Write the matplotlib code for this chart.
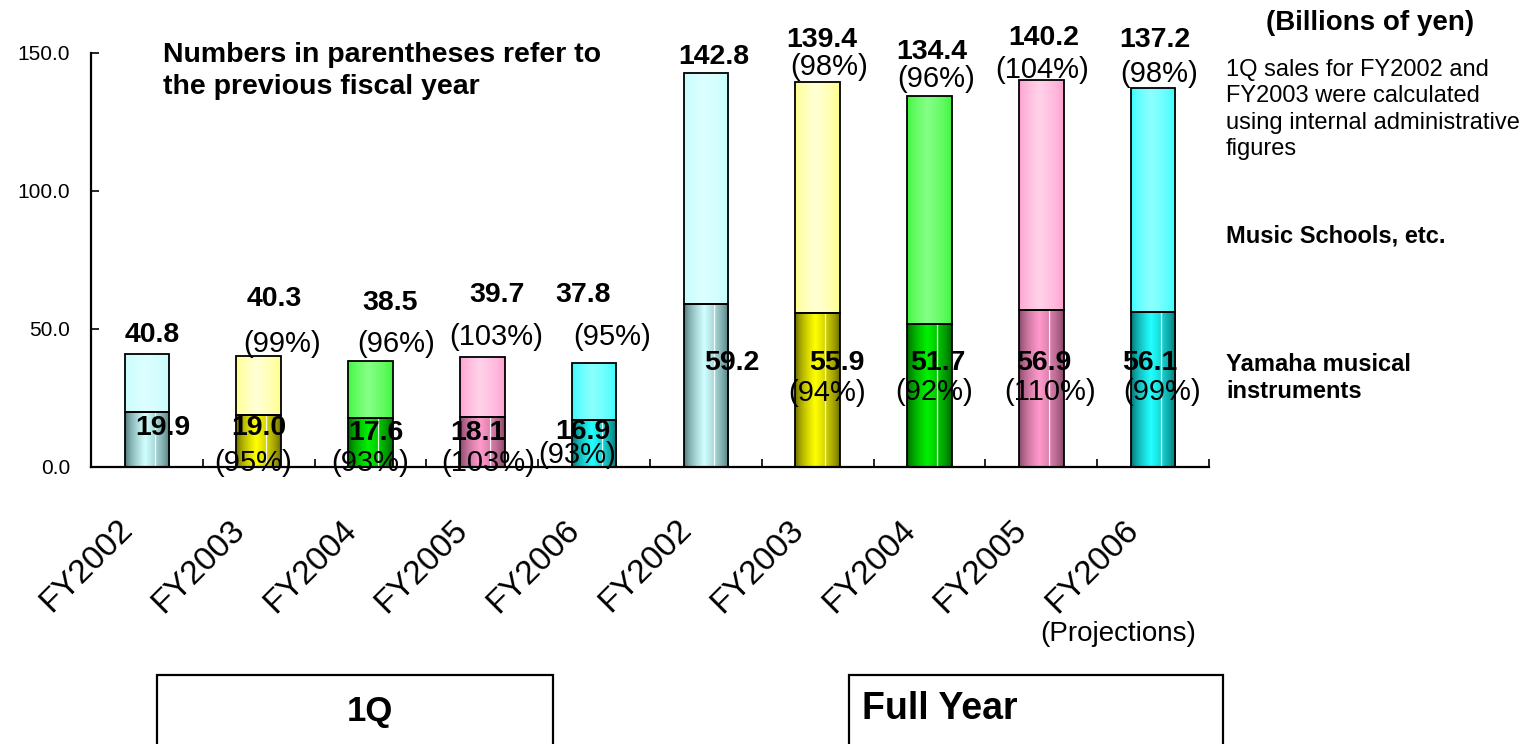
import numpy as np
import matplotlib
matplotlib.use("Agg")
import matplotlib.pyplot as plt
from matplotlib.patches import Rectangle
from matplotlib.colors import to_rgb

plt.rcParams["font.family"] = ["Liberation Sans", "DejaVu Sans"]

# ---- data (billions of yen) ----
years = ["FY2002", "FY2003", "FY2004", "FY2005", "FY2006"]

q1_instruments = [19.9, 19.0, 17.6, 18.1, 16.9]
q1_total = [40.8, 40.3, 38.5, 39.7, 37.8]
q1_instruments_pct = [None, 95, 93, 103, 93]
q1_total_pct = [None, 99, 96, 103, 95]

fy_instruments = [59.2, 55.9, 51.7, 56.9, 56.1]
fy_total = [142.8, 139.4, 134.4, 140.2, 137.2]
fy_instruments_pct = [None, 94, 92, 110, 99]
fy_total_pct = [None, 98, 96, 104, 98]

y_ticks = [0, 50, 100, 150]

# ---- styling ----
# (edge colour, centre colour) of the cylinder shading, per fiscal year
upper_shades = [("#c4fcfc", "#dcffff"), ("#ffff80", "#ffffd6"), ("#33f533", "#85ff85"),
                ("#ff99cc", "#ffd2e9"), ("#2efcfc", "#8cffff")]
lower_shades = [("#3d6868", "#d0ffff"), ("#5a5a00", "#ffff00"), ("#005400", "#00f000"),
                ("#783b5a", "#ff9acc"), ("#005c5c", "#22ffff")]

# label offsets in pixels from the bar anchor (centre x, segment top)
q1_total_off = [(5, 19), (16, 57), (20, 58), (15, 62), (-11, 68)]
q1_total_pct_off = [None, (23, 12), (26, 17), (14, 20), (18, 26)]
q1_instr_off = [(16, -16), (0, -13), (5, -15), (-4, -16), (-11, -12)]
q1_instr_pct_off = [None, (-6, -48), (0, -45), (6, -46), (-17, -35)]
fy_total_off = [(8, 16), (4, 42), (2, 44), (2, 42), (2, 48)]
fy_total_pct_off = [None, (11, 15), (7, 17), (1, 10), (6, 14)]
fy_instr_off = [(26, -59), (19, -50), (8, -39), (2, -53), (-3, -51)]
fy_instr_pct_off = [None, (9, -80), (5, -68), (9, -82), (9, -80)]

W, H, DPI = 1537, 744, 100
fig = plt.figure(figsize=(W / DPI, H / DPI), dpi=DPI)
ax = fig.add_axes([91 / W, 1 - 467 / H, (1209 - 91) / W, (467 - 53) / H])

n = len(years)
centers = np.arange(2 * n) + 0.5
instruments = q1_instruments + fy_instruments
totals = q1_total + fy_total
schools = [t - i for t, i in zip(totals, instruments)]
bar_w = 0.4


def ramp(edge, mid, stripe):
    cols = 120
    t = (np.arange(cols) + 0.5) / cols
    peak = 0.45
    w = np.where(t < peak, t / peak, (1 - t) / (1 - peak))
    w = np.clip(w, 0, 1) ** 0.6
    e, m = np.array(to_rgb(edge)), np.array(to_rgb(mid))
    img = e[None, :] + (m - e)[None, :] * w[:, None]
    if stripe:
        img[np.abs(t - 0.68) < 0.011] = 1.0
    return img[None, :, :]


def shade(patch, colours, stripe):
    x0, y0 = patch.get_x(), patch.get_y()
    im = ax.imshow(ramp(*colours, stripe),
                   extent=(x0, x0 + patch.get_width(), y0, y0 + patch.get_height()),
                   aspect="auto", origin="lower", interpolation="antialiased", zorder=2)
    im.set_clip_path(patch)


low = ax.bar(centers, instruments, bar_w, facecolor="none", edgecolor="black",
             linewidth=1.3, zorder=3)
up = ax.bar(centers, schools, bar_w, bottom=instruments, facecolor="none",
            edgecolor="black", linewidth=1.3, zorder=3)
for k in range(2 * n):
    shade(low.patches[k], lower_shades[k % n], True)
    shade(up.patches[k], upper_shades[k % n], False)

ax.set_xlim(0, 2 * n)
ax.set_ylim(0, 150)

for s in ("top", "right"):
    ax.spines[s].set_visible(False)
for s in ("left", "bottom"):
    ax.spines[s].set_linewidth(1.6)

ax.set_xticks(np.arange(2 * n + 1))
ax.set_xticklabels([])
ax.tick_params(axis="x", direction="in", length=5.5, width=1.2)
ax.set_yticks(y_ticks)
ax.set_yticklabels([f"{v:.1f}" for v in y_ticks], fontsize=15)
ax.tick_params(axis="y", direction="in", length=6, width=1.2, pad=15)

# category labels under each bar
for k in range(2 * n):
    ax.annotate(years[k % n], xy=(centers[k], 0), xycoords=("data", "axes fraction"),
                xytext=(-13, -64), textcoords="offset pixels", rotation=45,
                rotation_mode="anchor", ha="right", va="baseline", fontsize=24)
ax.annotate("(Projections)", xy=(centers[-1], 0), xycoords=("data", "axes fraction"),
            xytext=(-35, -167), textcoords="offset pixels", ha="center", va="center",
            fontsize=20)


def put(text, x, y, off, bold):
    ax.annotate(text, xy=(x, y), xytext=off, textcoords="offset pixels",
                ha="center", va="center", fontsize=20.5 if bold else 21,
                fontweight="bold" if bold else "normal", zorder=5)


groups = [
    (0, q1_instruments, q1_total, q1_instruments_pct, q1_total_pct,
     q1_instr_off, q1_total_off, q1_instr_pct_off, q1_total_pct_off),
    (n, fy_instruments, fy_total, fy_instruments_pct, fy_total_pct,
     fy_instr_off, fy_total_off, fy_instr_pct_off, fy_total_pct_off),
]
for start, ins, tot, ins_pct, tot_pct, o_i, o_t, o_ip, o_tp in groups:
    for j in range(n):
        x = centers[start + j]
        put(f"{tot[j]:.1f}", x, tot[j], o_t[j], True)
        put(f"{ins[j]:.1f}", x, ins[j], o_i[j], True)
        if tot_pct[j] is not None:
            put(f"({tot_pct[j]}%)", x, tot[j], o_tp[j], False)
        if ins_pct[j] is not None:
            put(f"({ins_pct[j]}%)", x, ins[j], o_ip[j], False)

# header note and side annotations
fig.text(163 / W, 1 - 71.5 / H, "Numbers in parentheses refer to\nthe previous fiscal year",
         ha="left", va="center", fontsize=20.5, fontweight="bold", linespacing=1.3)
fig.text(1370 / W, 1 - 23 / H, "(Billions of yen)", ha="center", va="center",
         fontsize=20, fontweight="bold")
fig.text(1226 / W, 1 - 109.5 / H,
         "1Q sales for FY2002 and\nFY2003 were calculated\nusing internal administrative\nfigures",
         ha="left", va="center", fontsize=17, linespacing=1.26)
fig.text(1226 / W, 1 - 236 / H, "Music Schools, etc.", ha="left", va="center",
         fontsize=17, fontweight="bold")
fig.text(1226 / W, 1 - 378 / H, "Yamaha musical\ninstruments", ha="left", va="center",
         fontsize=17, fontweight="bold", linespacing=1.22)

# period boxes along the bottom edge
for x0, x1 in ((157, 553), (849, 1223)):
    fig.add_artist(Rectangle((x0 / W, -0.05), (x1 - x0) / W, (744 - 675) / H + 0.05,
                             transform=fig.transFigure, fill=False, lw=1.6,
                             edgecolor="black"))
fig.text(370 / W, 1 - 711 / H, "1Q", ha="center", va="center", fontsize=25,
         fontweight="bold")
fig.text(862 / W, 1 - 709 / H, "Full Year", ha="left", va="center", fontsize=27,
         fontweight="bold")

fig.savefig("out.png", dpi=DPI)
